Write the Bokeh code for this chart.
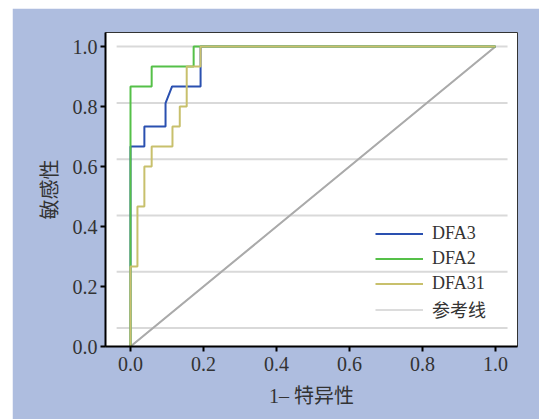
from bokeh.plotting import figure
from bokeh.models import FixedTicker, PrintfTickFormatter, Legend, LegendItem, Range1d
from bokeh.embed import file_html
from bokeh.resources import INLINE

# ROC data (1 - specificity, sensitivity)
dfa3_x = [0, 0, 0.038, 0.038, 0.096, 0.096, 0.114, 0.192, 0.192, 1.0]
dfa3_y = [0, 0.667, 0.667, 0.733, 0.733, 0.811, 0.867, 0.867, 1.0, 1.0]

dfa2_x = [0, 0, 0.058, 0.058, 0.173, 0.173, 1.0]
dfa2_y = [0, 0.867, 0.867, 0.933, 0.933, 1.0, 1.0]

dfa31_x = [0, 0, 0.019, 0.019, 0.038, 0.038, 0.058, 0.058, 0.115, 0.115,
           0.135, 0.135, 0.154, 0.154, 0.192, 0.192, 1.0]
dfa31_y = [0, 0.267, 0.267, 0.467, 0.467, 0.6, 0.6, 0.667, 0.667, 0.733,
           0.733, 0.8, 0.8, 0.933, 0.933, 1.0, 1.0]

ref_x = [0, 1.0]
ref_y = [0, 1.0]

x_ticks = [0.0, 0.2, 0.4, 0.6, 0.8, 1.0]
y_ticks = [0.0, 0.2, 0.4, 0.6, 0.8, 1.0]
grid_y = [0.062, 0.249, 0.437, 0.624, 0.812, 1.0]

series_names = ["DFA3", "DFA2", "DFA31", "参考线"]

SERIF = "Liberation Serif, Noto Sans CJK SC"
TXT = "#333333"

p = figure(width=527, height=411,
           x_range=Range1d(-0.0685, 1.0603), y_range=Range1d(0, 1.0467),
           output_backend="svg", toolbar_location=None,
           min_border_left=93, min_border_right=22,
           min_border_top=24, min_border_bottom=73)
p.margin = (8, 0, 0, 12)
p.border_fill_color = "#aebddf"
p.background_fill_color = "white"
p.outline_line_color = "#333333"
p.outline_line_width = 1
p.xgrid.visible = False
p.ygrid.visible = False

# horizontal grid lines
gx0 = [-0.038] * len(grid_y)
gx1 = [1.033] * len(grid_y)
p.segment(x0=gx0, y0=grid_y, x1=gx1, y1=grid_y, line_color="#d9d9d9", line_width=2)

# reference line (lighter copy underneath only serves the legend swatch)
r_ref_leg = p.line(ref_x, ref_y, line_color="#d0d0d0", line_width=1.5)
r_ref = p.line(ref_x, ref_y, line_color="#aaaaaa", line_width=2)
r3 = p.line(dfa3_x, dfa3_y, line_color="#2a50b0", line_width=2)
r2 = p.line(dfa2_x, dfa2_y, line_color="#55c048", line_width=2)
r31 = p.line(dfa31_x, dfa31_y, line_color="#c8c06c", line_width=2)

for ax, ticks in ((p.xaxis, x_ticks), (p.yaxis, y_ticks)):
    ax.ticker = FixedTicker(ticks=ticks)
    ax.formatter = PrintfTickFormatter(format="%.1f")
    ax.axis_line_color = "black"
    ax.axis_line_width = 2
    ax.major_tick_line_color = "black"
    ax.major_tick_line_width = 2
    ax.major_tick_out = 5
    ax.major_tick_in = 0
    ax.minor_tick_line_color = None
    ax.major_label_text_font = SERIF
    ax.major_label_text_font_size = "20px"
    ax.major_label_text_color = TXT
    ax.major_label_standoff = 3
    ax.axis_label_text_font = SERIF
    ax.axis_label_text_font_size = "20px"
    ax.axis_label_text_color = TXT
    ax.axis_label_text_font_style = "normal"

p.xaxis.major_label_standoff = 5
p.xaxis.axis_label = "1– 特异性"
p.yaxis.axis_label = "敏感性"
p.xaxis.axis_label_standoff = 11
p.yaxis.axis_label_standoff = 9

legend = Legend(items=[LegendItem(label=series_names[0], renderers=[r3]),
                       LegendItem(label=series_names[1], renderers=[r2]),
                       LegendItem(label=series_names[2], renderers=[r31]),
                       LegendItem(label=series_names[3], renderers=[r_ref_leg])],
                location=(270, 24))
legend.border_line_color = None
legend.background_fill_alpha = 0
legend.label_text_font = SERIF
legend.label_text_font_size = "18px"
legend.label_text_color = TXT
legend.glyph_width = 48
legend.glyph_height = 25
legend.label_height = 25
legend.label_standoff = 9
legend.spacing = 0
legend.padding = 0
legend.margin = 0
p.add_layout(legend)

open("out.html", "w").write(file_html(p, INLINE))
